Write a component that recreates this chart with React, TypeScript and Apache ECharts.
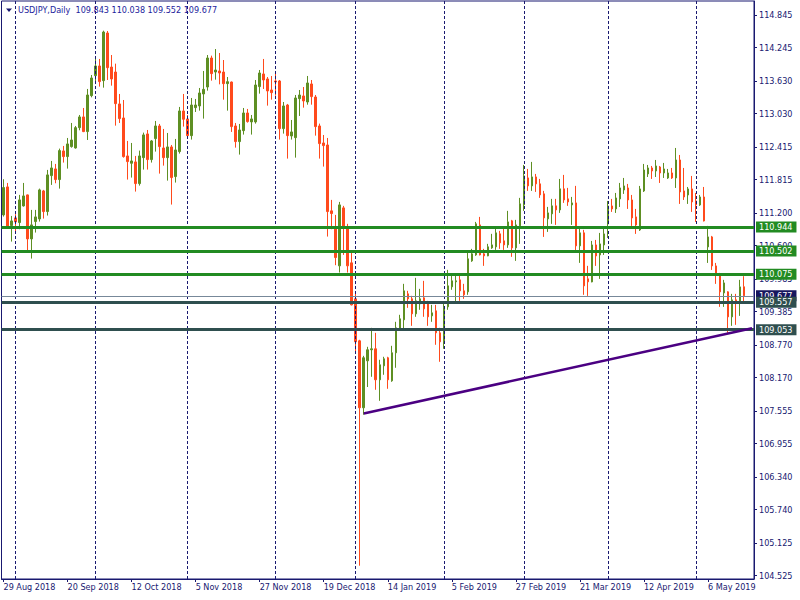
import React, { useEffect, useRef } from "react";
import * as echarts from "echarts";

// ---- Daily USDJPY candles, 29 Aug 2018 .. 17 May 2019 ----
const opens = [
  111.166, 111.681, 110.970, 111.111, 111.025, 111.331, 111.534, 110.724, 111.043, 111.092,
  111.607, 111.227, 111.889, 112.012, 111.816, 112.343, 112.239, 112.423, 112.398, 112.772,
  112.969, 112.699, 113.361, 113.729, 113.907, 113.637, 114.514, 113.888, 113.796, 113.208,
  112.950, 112.251, 112.116, 112.141, 111.742, 112.220, 112.656, 112.184, 112.570, 112.803,
  112.398, 112.220, 112.417, 111.871, 112.331, 113.079, 112.932, 112.625, 113.140, 113.171,
  113.392, 113.520, 114.054, 113.796, 113.815, 113.796, 113.582, 113.612, 112.803, 112.515,
  112.717, 113.042, 112.877, 112.877, 113.527, 113.760, 113.668, 113.465, 113.631, 113.631,
  112.754, 113.189, 112.619, 112.588, 113.306, 113.355, 113.244, 113.576, 113.336, 112.803,
  112.490, 112.453, 111.240, 110.933, 110.228, 111.295, 110.945, 110.283, 109.621, 108.848,
  107.616, 108.480, 108.683, 108.701, 108.131, 108.388, 108.536, 108.112, 108.628, 109.069,
  109.235, 109.713, 109.621, 109.345, 109.529, 109.639, 109.529, 109.308, 109.400, 108.995,
  108.830, 109.474, 109.842, 109.934, 109.970, 109.768, 109.750, 110.320, 110.430, 110.982,
  110.449, 110.412, 110.559, 110.578, 110.817, 110.688, 110.614, 111.056, 110.559, 110.964,
  111.350, 111.847, 111.700, 111.865, 111.737, 111.553, 111.093, 111.185, 111.332, 111.258,
  111.645, 111.461, 111.350, 111.387, 110.596, 110.835, 109.989, 109.933, 110.613, 110.429,
  110.613, 110.999, 111.331, 111.276, 111.460, 111.625, 111.662, 111.441, 111.129, 110.889,
  111.607, 111.920, 112.030, 111.975, 112.048, 111.938, 111.846, 111.938, 111.846, 112.177,
  111.607, 111.533, 111.644, 111.423, 111.349, 111.496, 110.577, 110.761, 110.227, 110.080,
  109.730, 109.749, 109.289, 109.602, 109.565, 109.843,
];
const highs = [
  111.822, 111.754, 111.147, 111.178, 111.534, 111.754, 111.540, 111.258, 111.258, 111.650,
  111.626, 111.994, 112.159, 112.104, 112.386, 112.435, 112.582, 112.858, 112.803, 113.005,
  113.134, 113.484, 113.741, 114.036, 114.036, 114.557, 114.551, 114.109, 113.950, 113.392,
  113.281, 112.527, 112.490, 112.251, 112.349, 112.680, 112.729, 112.545, 112.895, 112.840,
  112.748, 112.674, 112.453, 112.564, 113.153, 113.392, 113.005, 113.318, 113.300, 113.502,
  113.815, 114.109, 114.097, 114.219, 114.146, 114.017, 113.704, 113.620, 112.858, 112.840,
  113.134, 113.116, 113.005, 113.649, 113.833, 114.036, 113.704, 113.723, 113.815, 113.649,
  113.244, 113.208, 112.913, 113.373, 113.465, 113.520, 113.723, 113.649, 113.373, 112.846,
  112.637, 112.582, 111.442, 111.166, 111.405, 111.332, 111.001, 110.467, 109.713, 108.867,
  108.572, 108.738, 109.087, 108.995, 108.499, 108.554, 108.554, 108.756, 109.198, 109.327,
  109.897, 109.768, 109.676, 110.007, 109.805, 109.952, 109.584, 109.510, 109.510, 109.087,
  109.547, 110.154, 110.062, 110.044, 110.081, 109.897, 110.486, 110.541, 111.037, 111.129,
  110.541, 110.633, 110.817, 110.927, 110.872, 110.909, 111.240, 111.074, 111.074, 111.479,
  112.086, 112.012, 112.141, 111.920, 111.828, 111.608, 111.313, 111.461, 111.461, 111.828,
  111.902, 111.663, 111.497, 111.700, 110.909, 110.890, 110.228, 110.687, 110.705, 110.834,
  110.944, 111.423, 111.460, 111.570, 111.754, 111.846, 111.736, 111.533, 111.276, 111.699,
  112.104, 112.085, 112.067, 112.177, 112.067, 112.122, 112.012, 112.030, 112.398, 112.269,
  112.030, 111.680, 111.883, 111.570, 111.533, 111.680, 110.963, 110.779, 110.282, 110.098,
  109.970, 109.760, 109.712, 109.712, 109.970, 110.038,
];
const lows = [
  111.135, 110.939, 110.675, 110.841, 110.902, 111.319, 110.510, 110.362, 110.841, 111.043,
  111.098, 111.154, 111.718, 111.748, 111.650, 112.129, 112.018, 112.404, 112.386, 112.723,
  112.690, 112.545, 113.330, 113.612, 113.527, 113.508, 113.649, 113.545, 112.809, 112.858,
  112.220, 111.816, 111.853, 111.595, 111.705, 112.000, 112.000, 112.129, 112.331, 111.926,
  112.073, 111.797, 111.356, 111.761, 112.294, 112.791, 112.588, 112.552, 113.060, 113.085,
  112.938, 113.453, 113.637, 113.655, 113.569, 113.287, 113.085, 112.693, 112.404, 112.276,
  112.644, 112.864, 112.644, 112.846, 113.398, 113.484, 113.177, 113.287, 113.361, 112.552,
  112.662, 112.202, 112.552, 112.220, 112.987, 113.140, 113.195, 113.195, 112.625, 112.202,
  112.055, 110.767, 110.902, 110.240, 110.105, 110.430, 110.105, 109.500, 108.652, 104.709,
  107.487, 107.998, 108.186, 107.947, 107.744, 108.223, 107.965, 108.094, 108.352, 109.032,
  109.032, 109.455, 109.124, 109.290, 109.419, 109.290, 109.124, 109.198, 108.775, 108.462,
  108.701, 109.419, 109.787, 109.541, 109.584, 109.621, 109.695, 110.302, 110.412, 110.420,
  110.228, 110.405, 110.541, 110.522, 110.541, 110.522, 110.559, 110.394, 110.320, 110.633,
  111.240, 111.608, 111.608, 111.589, 111.479, 110.761, 110.853, 111.001, 110.982, 111.203,
  111.387, 111.332, 110.982, 110.504, 110.283, 109.695, 109.675, 109.925, 110.227, 109.988,
  110.429, 110.742, 111.221, 111.202, 111.312, 111.552, 111.276, 110.963, 110.816, 110.871,
  111.588, 111.864, 111.828, 111.864, 111.754, 111.846, 111.828, 111.828, 111.662, 111.368,
  111.441, 111.368, 111.221, 111.037, 111.331, 111.045, 110.282, 110.153, 109.896, 109.473,
  109.473, 108.995, 109.124, 109.142, 109.307, 109.552,
];
const closes = [
  111.669, 110.951, 111.055, 111.037, 111.442, 111.515, 110.724, 110.982, 111.129, 111.626,
  111.227, 111.902, 112.030, 111.816, 112.349, 112.239, 112.472, 112.545, 112.772, 112.969,
  112.699, 113.373, 113.686, 113.907, 113.619, 114.532, 113.876, 113.668, 113.214, 112.938,
  112.239, 112.147, 112.159, 111.742, 112.251, 112.638, 112.184, 112.527, 112.803, 112.423,
  112.220, 112.417, 111.853, 112.361, 113.079, 112.926, 112.625, 113.189, 113.189, 113.410,
  113.477, 114.054, 113.766, 113.833, 113.778, 113.582, 113.618, 112.791, 112.515, 112.729,
  113.042, 112.883, 112.932, 113.557, 113.778, 113.649, 113.447, 113.416, 113.612, 112.754,
  113.171, 112.625, 112.693, 113.318, 113.373, 113.263, 113.594, 113.343, 112.791, 112.478,
  112.441, 111.227, 111.191, 110.381, 111.350, 110.933, 110.228, 109.510, 108.830, 107.616,
  108.536, 108.683, 108.701, 108.131, 108.407, 108.517, 108.131, 108.628, 109.087, 109.253,
  109.768, 109.621, 109.345, 109.584, 109.621, 109.437, 109.290, 109.363, 108.995, 108.830,
  109.455, 109.860, 109.952, 109.952, 109.768, 109.695, 110.357, 110.449, 111.001, 110.430,
  110.412, 110.578, 110.614, 110.835, 110.651, 110.614, 111.037, 110.559, 110.982, 111.369,
  111.884, 111.700, 111.865, 111.737, 111.534, 111.111, 111.203, 111.332, 111.258, 111.645,
  111.442, 111.405, 111.387, 110.596, 110.835, 109.860, 109.934, 110.613, 110.411, 110.632,
  110.816, 111.331, 111.276, 111.478, 111.662, 111.699, 111.441, 111.110, 110.981, 111.644,
  111.993, 112.030, 111.975, 112.067, 111.938, 112.012, 111.938, 111.846, 112.177, 111.588,
  111.496, 111.644, 111.404, 111.349, 111.496, 111.055, 110.761, 110.227, 110.080, 109.749,
  109.914, 109.289, 109.602, 109.565, 109.841, 109.677,
];

// ---- Calendar: weekdays from the first bar, without the two closed days ----
const firstDay = "2018-08-29";
const closedDays = ["2018-12-25", "2019-01-01"];
const monthNames = ["Jan", "Feb", "Mar", "Apr", "May", "Jun", "Jul", "Aug", "Sep", "Oct", "Nov", "Dec"];
const emptyRightBars = ["+1", "+2"];

// ---- Price levels / tick labels ----
const greenLevels = [110.944, 110.502, 110.075];
const darkLevels = [109.557, 109.053];
const bidPrice = 109.677;
const trendLine = [
  { bar: 90, price: 107.51 },
  { bar: 187, price: 109.08 },
];
const yTickLabels = [
  104.525, 105.125, 105.74, 106.34, 106.955, 107.555, 108.17, 108.77, 109.385,
  109.985, 110.6, 111.2, 111.815, 112.415, 113.03, 113.63, 114.245, 114.845,
];
const symbolName = "USDJPY,Daily";

const NAVY = "#191970";
const FONT = "'DejaVu Sans Condensed', 'Liberation Sans', Arial, sans-serif";

function buildDates(n: number) {
  const out: { label: string; month: number }[] = [];
  const [y, m, d] = firstDay.split("-").map(Number);
  const cur = new Date(Date.UTC(y, m - 1, d));
  while (out.length < n) {
    const wd = cur.getUTCDay();
    const iso = cur.toISOString().slice(0, 10);
    if (wd !== 0 && wd !== 6 && !closedDays.includes(iso)) {
      out.push({
        label: `${cur.getUTCDate()} ${monthNames[cur.getUTCMonth()]} ${cur.getUTCFullYear()}`,
        month: cur.getUTCMonth(),
      });
    }
    cur.setUTCDate(cur.getUTCDate() + 1);
  }
  return out;
}

export default function App() {
  const ref = useRef<HTMLDivElement>(null);

  useEffect(() => {
    if (!ref.current) return;
    const chart = echarts.init(ref.current, null, { renderer: "svg" });

    const dates = buildDates(opens.length);
    const categories = dates.map((d) => d.label).concat(emptyRightBars);
    const separators: string[] = [];
    dates.forEach((d, i) => {
      if (i > 0 && d.month !== dates[i - 1].month) separators.push(d.label);
    });
    const candles = opens.map((o, i) => [o, closes[i], lows[i], highs[i]]);
    const last = opens.length - 1;
    const header = `${symbolName}  ${opens[last].toFixed(3)} ${highs[last].toFixed(3)} ${lows[last].toFixed(3)} ${closes[last].toFixed(3)}`;

    const tagLabel = (bg: string, value: number) => ({
      show: true,
      position: "end",
      distance: 2,
      formatter: () => value.toFixed(3),
      backgroundColor: bg,
      color: "#ffffff",
      fontSize: 9,
      fontFamily: FONT,
      lineHeight: 10,
      padding: [1, 4, 0, 3],
    });

    const option: any = {
      animation: false,
      backgroundColor: "#ffffff",
      title: {
        text: header,
        left: 18,
        top: 5,
        padding: 0,
        textStyle: { fontSize: 9, fontWeight: "normal", color: "#1c1c9c", fontFamily: FONT },
      },
      graphic: [
        {
          type: "polygon",
          shape: { points: [[6, 8.5], [12, 8.5], [9, 12]] },
          style: { fill: NAVY },
        },
      ],
      grid: {
        left: 1.5,
        right: 46,
        top: 1,
        bottom: 21,
        show: true,
        borderColor: NAVY,
        borderWidth: 1,
      },
      xAxis: {
        type: "category",
        data: categories,
        boundaryGap: true,
        axisLine: { lineStyle: { color: NAVY, width: 1 } },
        axisTick: { show: true, interval: 15, alignWithLabel: true, length: 3, lineStyle: { color: NAVY } },
        axisLabel: {
          interval: 15,
          align: "left",
          color: NAVY,
          fontSize: 9,
          fontFamily: FONT,
          margin: 3,
          hideOverlap: false,
        },
        splitLine: { show: false },
      },
      yAxis: {
        type: "value",
        position: "right",
        min: 104.464,
        max: 115.103,
        axisLine: { show: true, lineStyle: { color: NAVY, width: 1 } },
        axisTick: { show: true, length: 3, customValues: yTickLabels, lineStyle: { color: NAVY } },
        axisLabel: {
          customValues: yTickLabels,
          formatter: (v: number) => v.toFixed(3),
          color: NAVY,
          fontSize: 9,
          fontFamily: FONT,
          margin: 5,
        },
        splitLine: { show: false },
      },
      series: [
        {
          type: "line",
          data: [],
          z: 1,
          silent: true,
          markLine: {
            silent: true,
            symbol: ["none", "none"],
            label: { show: false },
            lineStyle: { color: NAVY, type: [3, 2], width: 1 },
            data: separators.map((s) => ({ xAxis: s })),
          },
        },
        {
          type: "candlestick",
          data: candles,
          barWidth: 2,
          z: 2,
          itemStyle: {
            color: "#5E8F23",
            color0: "#FF4A1C",
            borderColor: "#5E8F23",
            borderColor0: "#FF4A1C",
            borderWidth: 1,
          },
        },
        {
          type: "line",
          data: [],
          z: 3,
          silent: true,
          markLine: {
            silent: true,
            precision: 3,
            symbol: ["none", "none"],
            data: [
              {
                yAxis: bidPrice,
                lineStyle: { color: "#778899", width: 1, type: "solid" },
                label: tagLabel("#16165e", bidPrice),
              },
              ...greenLevels.map((v) => ({
                yAxis: v,
                lineStyle: { color: "#228B22", width: 3, type: "solid" },
                label: tagLabel("#228B22", v),
              })),
              ...darkLevels.map((v) => ({
                yAxis: v,
                lineStyle: { color: "#2F4F4F", width: 3, type: "solid" },
                label: tagLabel("#2F4F4F", v),
              })),
              [
                {
                  coord: [categories[trendLine[0].bar], trendLine[0].price],
                  lineStyle: { color: "#4B0082", width: 2.5, type: "solid" },
                  label: { show: false },
                },
                { coord: [categories[trendLine[1].bar], trendLine[1].price] },
              ],
            ],
          },
        },
      ],
    };

    chart.setOption(option);
    return () => chart.dispose();
  }, []);

  return (
    <div
      ref={ref}
      style={{ position: "fixed", left: 0, top: 0, width: 800, height: 600, background: "#fff" }}
    />
  );
}
